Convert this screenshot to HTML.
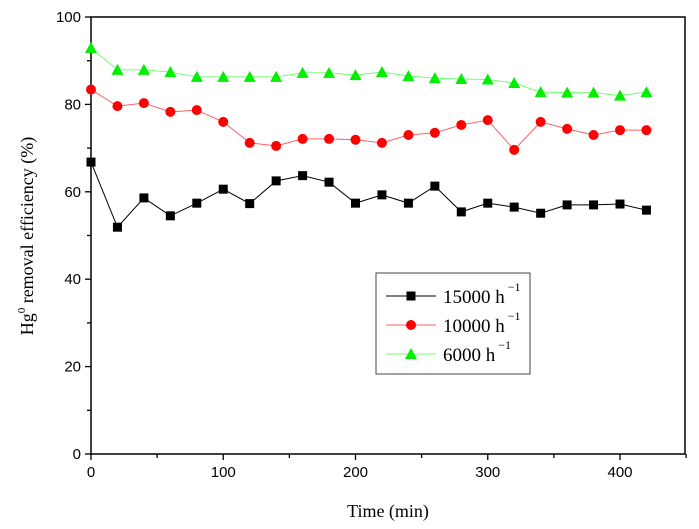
<!DOCTYPE html>
<html><head><meta charset="utf-8"><style>
body{margin:0;background:#fff;}
svg{display:block;}
</style></head><body>
<svg id="chart" width="699" height="529" xmlns="http://www.w3.org/2000/svg"></svg>
<script>
const times=[0,20,40,60,80,100,120,140,160,180,200,220,240,260,280,300,320,340,360,380,400,420];
const s15000=[66.8,51.9,58.6,54.5,57.4,60.6,57.3,62.5,63.7,62.2,57.4,59.3,57.4,61.3,55.4,57.4,56.5,55.1,57.0,57.0,57.2,55.8];
const s10000=[83.4,79.6,80.3,78.3,78.7,76.0,71.2,70.5,72.1,72.1,71.9,71.2,73.0,73.5,75.3,76.4,69.6,76.0,74.4,73.0,74.1,74.1];
const s6000=[92.9,87.9,87.9,87.4,86.3,86.3,86.3,86.3,87.2,87.2,86.7,87.4,86.5,86.0,85.8,85.7,84.9,82.8,82.7,82.7,82.0,82.8];
const xTicks=[0,100,200,300,400];
const yTicks=[0,20,40,60,80,100];

const svg=document.getElementById('chart');
const NS='http://www.w3.org/2000/svg';
const X0=91,X1=685,Y0=454,Y1=17;
const xs=v=>X0+v*(620-X0)/400;
const ys=v=>Y0-v*(Y0-Y1)/100;
function el(t,a,p){const e=document.createElementNS(NS,t);for(const k in a)e.setAttribute(k,a[k]);(p||svg).appendChild(e);return e;}

const frame=el('rect',{x:X0,y:Y1,width:X1-X0,height:Y0-Y1,fill:'none',stroke:'#000','stroke-width':1.5});



for(let v=0;v<=450;v+=50){
  const t=el('line',{x1:xs(v),x2:xs(v),y1:Y0,y2:Y0+(v%100===0?6:4),stroke:'#000','stroke-width':1.3});
  
  
}
xTicks.forEach(v=>{
  const t=el('text',{x:xs(v),y:Y0+23,'text-anchor':'middle','font-family':'Liberation Sans, sans-serif','font-size':15});
  t.textContent=v;
  
  
});
for(let v=0;v<=100;v+=10){
  const t=el('line',{x1:X0,x2:X0-(v%20===0?6:4),y1:ys(v),y2:ys(v),stroke:'#000','stroke-width':1.3});
  
  
}
yTicks.forEach(v=>{
  const t=el('text',{x:X0-10,y:ys(v)+5,'text-anchor':'end','font-family':'Liberation Sans, sans-serif','font-size':15});
  t.textContent=v;
  
  
});
const xt=el('text',{x:388,y:517,'text-anchor':'middle','font-family':'Liberation Serif, serif','font-size':18});
xt.textContent='Time (min)';


const yt=el('text',{transform:'translate(33,236) rotate(-90)','text-anchor':'middle','font-family':'Liberation Serif, serif','font-size':18});
yt.innerHTML='Hg<tspan dy="-8" font-size="11">0</tspan><tspan dy="8"> removal efficiency (%)</tspan>';



function marker(type,x,y,color,g){
  if(type==='sq') return el('rect',{x:x-4.5,y:y-4.5,width:9,height:9,fill:color},g);
  if(type==='ci') return el('circle',{cx:x,cy:y,r:5,fill:color},g);
  return el('polygon',{points:`${x},${y-6} ${x-6},${y+5} ${x+6},${y+5}`,fill:color},g);
}
const series=[
  {name:'series-15000',data:s15000,line:'#000',fill:'#000',m:'sq'},
  {name:'series-10000',data:s10000,line:'#ff6060',fill:'#ff0000',m:'ci'},
  {name:'series-6000',data:s6000,line:'#70ff70',fill:'#00ee00',m:'tr'}
];
series.forEach(s=>{
  const g=el('g',{});
  
  
  el('polyline',{points:times.map((t,i)=>xs(t)+','+ys(s.data[i])).join(' '),fill:'none',stroke:s.line,'stroke-width':1},g);
  times.forEach((t,i)=>{
    const m=marker(s.m,xs(t),ys(s.data[i]),s.fill,g);
    
    
  });
});

const lg=el('g',{});


el('rect',{x:376,y:273,width:154,height:101,fill:'#fff',stroke:'#444','stroke-width':1},lg);
const labels=['15000 h','10000 h','6000 h'];
series.forEach((s,i)=>{
  const y=296+i*29;
  const e=el('g',{},lg);
  
  
  el('line',{x1:386,x2:436,y1:y,y2:y,stroke:s.line,'stroke-width':1},e);
  marker(s.m,411,y,s.fill,e);
  const t=el('text',{x:443,y:y+7,'font-family':'Liberation Serif, serif','font-size':19},e);
  t.innerHTML=labels[i]+'<tspan dy="-12" font-size="12"> \u22121</tspan>';
});
</script>
</body></html>
